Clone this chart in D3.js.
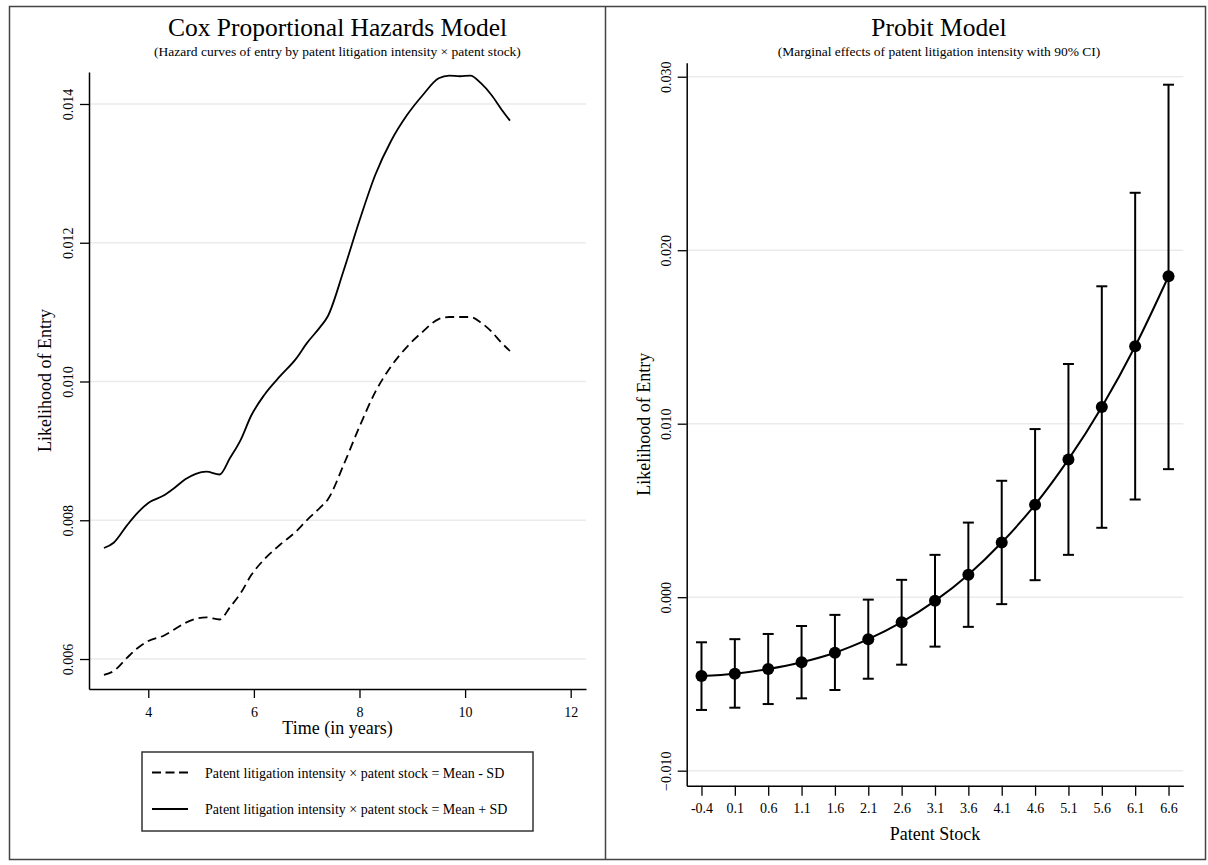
<!DOCTYPE html>
<html>
<head>
<meta charset="utf-8">
<script src="https://cdn.jsdelivr.net/npm/d3@7"></script>
<style>
  body { margin: 0; background: #fff; }
  svg { display: block; }
  text { font-family: "Liberation Serif", "Times New Roman", serif; fill: #000; }
</style>
</head>
<body>
<div id="chart"></div>
<script>
// ---- Cox model: hazard curves (time in years) ----
const coxTime = [3.16, 3.35, 3.6, 3.8, 4.0, 4.3, 4.5, 4.7, 4.9, 5.1, 5.35, 5.55, 5.75, 5.95, 6.2, 6.5, 6.8, 7.0, 7.25, 7.4, 7.7, 8.0, 8.3, 8.6, 8.9, 9.2, 9.5, 9.7, 9.9, 10.1, 10.3, 10.5, 10.7, 10.85];
const coxMinusSD = [0.00577, 0.00583, 0.00602, 0.00616, 0.00626, 0.00634, 0.00643, 0.00652, 0.00658, 0.00660, 0.00657, 0.00675, 0.00695, 0.00721, 0.00744, 0.00765, 0.00784, 0.00800, 0.00818, 0.00830, 0.00880, 0.00935, 0.00985, 0.01022, 0.01050, 0.01072, 0.01090, 0.01093, 0.01093, 0.01093, 0.01085, 0.01072, 0.01055, 0.01044];
const coxPlusSD = [0.00760, 0.00768, 0.00793, 0.00811, 0.00825, 0.00836, 0.00847, 0.00859, 0.00867, 0.00870, 0.00866, 0.00890, 0.00916, 0.00951, 0.00981, 0.01008, 0.01033, 0.01055, 0.01078, 0.01094, 0.01160, 0.01232, 0.01298, 0.01347, 0.01384, 0.01413, 0.01437, 0.01441, 0.01440, 0.01441, 0.01430, 0.01413, 0.01391, 0.01376];
const coxXTicks = [4, 6, 8, 10, 12];
const coxYTicks = [0.006, 0.008, 0.010, 0.012, 0.014];
const coxLegend = [
  "Patent litigation intensity \u00d7 patent stock = Mean - SD",
  "Patent litigation intensity \u00d7 patent stock = Mean + SD"
];

// ---- Probit model: marginal effects with 90% CI ----
const patentStock = ["-0.4", "0.1", "0.6", "1.1", "1.6", "2.1", "2.6", "3.1", "3.6", "4.1", "4.6", "5.1", "5.6", "6.1", "6.6"];
const probitEffect = [-0.00454, -0.00441, -0.00414, -0.00375, -0.00320, -0.00242, -0.00144, -0.00021, 0.00130, 0.00315, 0.00533, 0.00794, 0.01096, 0.01446, 0.01850];
const probitLower = [-0.00650, -0.00637, -0.00616, -0.00583, -0.00535, -0.00470, -0.00389, -0.00285, -0.00171, -0.00040, 0.00098, 0.00244, 0.00400, 0.00563, 0.00738];
const probitUpper = [-0.00260, -0.00242, -0.00212, -0.00166, -0.00102, -0.00014, 0.00100, 0.00244, 0.00430, 0.00671, 0.00969, 0.01344, 0.01792, 0.02331, 0.02954];
const probitYTicks = [-0.010, 0.000, 0.010, 0.020, 0.030];

const W = 1208, H = 865;
const svg = d3.select("#chart").append("svg").attr("width", W).attr("height", H);

// outer frame and divider
svg.append("rect").attr("x", 9.5).attr("y", 6.5).attr("width", 1196).attr("height", 853)
  .attr("fill", "none").attr("stroke", "#444").attr("stroke-width", 1.5);
svg.append("line").attr("x1", 605.5).attr("x2", 605.5).attr("y1", 6.5).attr("y2", 859.5)
  .attr("stroke", "#444").attr("stroke-width", 1.5);

const fmt = d3.format(".3f");

function styleAxis(g) {
  g.select(".domain").attr("stroke", "#000").attr("stroke-width", 1.5);
  g.selectAll(".tick line").attr("stroke", "#000").attr("stroke-width", 1.3);
  g.selectAll(".tick text").style("font-size", "14px").attr("fill", "#000");
}

function titles(cx, title, sub) {
  svg.append("text").attr("x", cx).attr("y", 36).attr("text-anchor", "middle")
    .style("font-size", "25.5px").text(title);
  svg.append("text").attr("x", cx).attr("y", 56).attr("text-anchor", "middle")
    .style("font-size", "13.5px").text(sub);
}

function yLabel(x, y, label) {
  svg.append("text").attr("transform", `translate(${x},${y}) rotate(-90)`)
    .attr("text-anchor", "middle").style("font-size", "18px").text(label);
}

// ================= left panel =================
{
  const x = d3.scaleLinear().domain([2.877, 12.29]).range([89, 586]);
  const y = d3.scaleLinear().domain([0.005568, 0.014461]).range([689, 72]);

  svg.append("g").selectAll("line").data(coxYTicks).join("line")
    .attr("x1", x.range()[0]).attr("x2", x.range()[1])
    .attr("y1", d => y(d)).attr("y2", d => y(d))
    .attr("stroke", "#ebebeb").attr("stroke-width", 1.5);

  const xAxis = svg.append("g").attr("transform", `translate(0,${y.range()[0]})`)
    .call(d3.axisBottom(x).tickValues(coxXTicks).tickFormat(d3.format("d"))
      .tickSize(9).tickSizeOuter(0).tickPadding(9));
  styleAxis(xAxis);

  const yAxis = svg.append("g").attr("transform", `translate(${x.range()[0]},0)`)
    .call(d3.axisLeft(y).tickValues(coxYTicks).tickFormat(fmt).tickSize(9).tickSizeOuter(0));
  styleAxis(yAxis);
  yAxis.selectAll(".tick text").attr("transform", "rotate(-90)")
    .attr("x", 0).attr("y", -16).attr("dy", 0).style("text-anchor", "middle");

  const pts = (vals) => coxTime.map((t, i) => [t, vals[i]]);
  const line = d3.line().x(d => x(d[0])).y(d => y(d[1])).curve(d3.curveMonotoneX);

  svg.append("path").attr("d", line(pts(coxMinusSD))).attr("fill", "none")
    .attr("stroke", "#000").attr("stroke-width", 1.8).attr("stroke-dasharray", "9,5");
  svg.append("path").attr("d", line(pts(coxPlusSD))).attr("fill", "none")
    .attr("stroke", "#000").attr("stroke-width", 1.8);

  const cx = (x.range()[0] + x.range()[1]) / 2;
  titles(cx, "Cox Proportional Hazards Model",
    "(Hazard curves of entry by patent litigation intensity \u00d7 patent stock)");
  yLabel(51, (y.range()[0] + y.range()[1]) / 2, "Likelihood of Entry");
  svg.append("text").attr("x", cx).attr("y", 734).attr("text-anchor", "middle")
    .style("font-size", "18px").text("Time (in years)");

  // legend
  const lg = svg.append("g");
  lg.append("rect").attr("x", 142).attr("y", 752).attr("width", cx * 2 - 284).attr("height", 79)
    .attr("fill", "#fff").attr("stroke", "#333").attr("stroke-width", 1.5);
  const rows = lg.selectAll("g.row").data(coxLegend).join("g").attr("class", "row")
    .attr("transform", (d, i) => `translate(0,${772.5 + i * 36.5})`);
  rows.append("line").attr("x1", 152).attr("x2", 188).attr("y1", 0).attr("y2", 0)
    .attr("stroke", "#000").attr("stroke-width", 1.8)
    .attr("stroke-dasharray", (d, i) => i === 0 ? "9,4.5" : null);
  rows.append("text").attr("x", 205).attr("y", 5).style("font-size", "14px").text(d => d);
}

// ================= right panel =================
{
  const x = d3.scalePoint().domain(patentStock).range([686.7, 1183.3]).padding(0.443);
  const y = d3.scaleLinear().domain([-0.010866, 0.030808]).range([785.7, 62.7]);

  svg.append("g").selectAll("line").data(probitYTicks).join("line")
    .attr("x1", x.range()[0]).attr("x2", x.range()[1])
    .attr("y1", d => y(d)).attr("y2", d => y(d))
    .attr("stroke", "#ebebeb").attr("stroke-width", 1.5);

  const xAxis = svg.append("g").attr("transform", `translate(0,${y.range()[0]})`)
    .call(d3.axisBottom(x).tickSize(10).tickSizeOuter(0).tickPadding(7));
  styleAxis(xAxis);

  const yAxis = svg.append("g").attr("transform", `translate(${x.range()[0]},0)`)
    .call(d3.axisLeft(y).tickValues(probitYTicks).tickFormat(fmt).tickSize(9).tickSizeOuter(0));
  styleAxis(yAxis);
  yAxis.selectAll(".tick text").attr("transform", "rotate(-90)")
    .attr("x", 0).attr("y", -16).attr("dy", 0).style("text-anchor", "middle");

  const data = patentStock.map((k, i) => ({ k, m: probitEffect[i], lo: probitLower[i], hi: probitUpper[i] }));
  const cap = 5.5;

  const bars = svg.append("g").selectAll("g").data(data).join("g");
  bars.append("line").attr("x1", d => x(d.k)).attr("x2", d => x(d.k))
    .attr("y1", d => y(d.lo)).attr("y2", d => y(d.hi))
    .attr("stroke", "#000").attr("stroke-width", 2);
  bars.append("line").attr("x1", d => x(d.k) - cap).attr("x2", d => x(d.k) + cap)
    .attr("y1", d => y(d.hi)).attr("y2", d => y(d.hi))
    .attr("stroke", "#000").attr("stroke-width", 2);
  bars.append("line").attr("x1", d => x(d.k) - cap).attr("x2", d => x(d.k) + cap)
    .attr("y1", d => y(d.lo)).attr("y2", d => y(d.lo))
    .attr("stroke", "#000").attr("stroke-width", 2);

  svg.append("path")
    .attr("d", d3.line().x(d => x(d.k)).y(d => y(d.m)).curve(d3.curveMonotoneX)(data))
    .attr("fill", "none").attr("stroke", "#000").attr("stroke-width", 2);

  svg.append("g").selectAll("circle").data(data).join("circle")
    .attr("cx", d => x(d.k)).attr("cy", d => y(d.m)).attr("r", 6).attr("fill", "#000");

  const cx = (x.range()[0] + x.range()[1]) / 2;
  titles(cx + 4, "Probit Model", "(Marginal effects of patent litigation intensity with 90% CI)");
  yLabel(650, (y.range()[0] + y.range()[1]) / 2, "Likelihood of Entry");
  svg.append("text").attr("x", cx).attr("y", 840).attr("text-anchor", "middle")
    .style("font-size", "18px").text("Patent Stock");
}
</script>
</body>
</html>
